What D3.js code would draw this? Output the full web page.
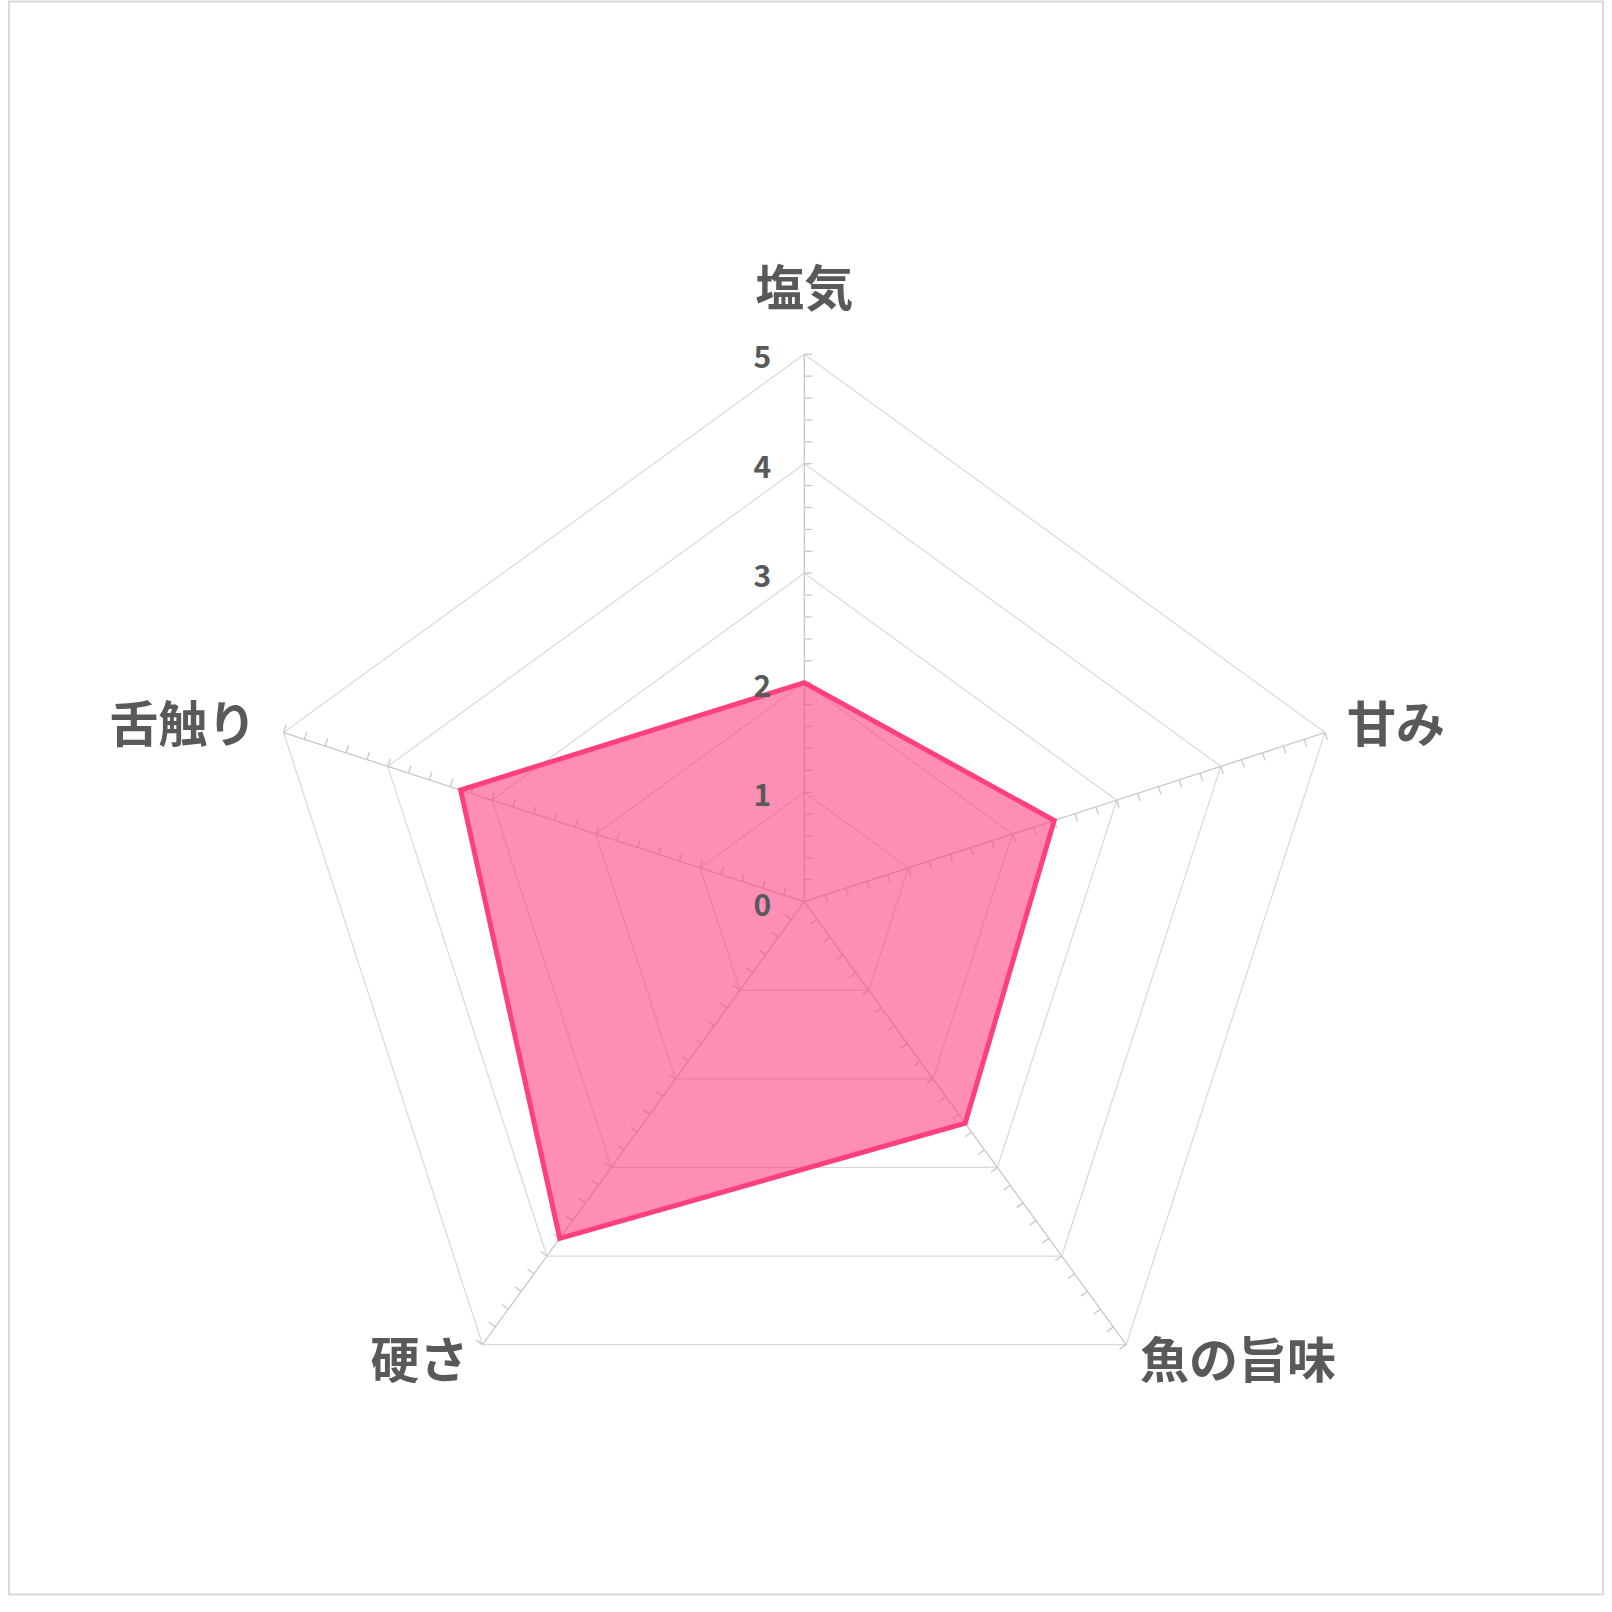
<!DOCTYPE html>
<html>
<head>
<meta charset="utf-8">
<script src="https://cdn.jsdelivr.net/npm/d3@7"></script>
<style>
  html, body { margin: 0; padding: 0; background: #fff; }
  svg { display: block; }
</style>
</head>
<body>
<div id="chart"></div>
<script>
// data
const categories = ["塩気", "甘み", "魚の旨味", "硬さ", "舌触り"]
const values = [2, 2.4, 2.5, 3.8, 3.3]
const tickValues = [0, 1, 2, 3, 4, 5]

const width = 1612
const height = 1612
const cx = 804.3
const cy = 901.7
const R = 547.5

const svg = d3.select("#chart")
  .append("svg")
  .attr("width", width)
  .attr("height", height)

// frame
svg.append("rect")
  .attr("x", 9).attr("y", 1.5)
  .attr("width", 1594).attr("height", 1593)
  .attr("fill", "#fff")
  .attr("stroke", "#d9d9d9")
  .attr("stroke-width", 2)

const r = d3.scaleLinear().domain([0, 5]).range([0, R])
const angle = d3.scaleLinear().domain([0, categories.length]).range([0, 2 * Math.PI])

const g = svg.append("g").attr("transform", `translate(${cx},${cy})`)

// grid polygons
const gridLine = d3.lineRadial()
  .angle((d, i) => angle(i))
  .radius(d => r(d))
  .curve(d3.curveLinearClosed)

g.selectAll(".grid")
  .data(tickValues.slice(1))
  .enter().append("path")
  .attr("class", "grid")
  .attr("d", v => gridLine(categories.map(() => v)))
  .attr("fill", "none")
  .attr("stroke", "#d9d9d9")
  .attr("stroke-width", 1.2)

// axes + minor ticks (every 0.2, on the clockwise side)
const minor = d3.range(1, 26).map(i => i * 0.2)
categories.forEach((c, i) => {
  const a = angle(i)
  const dx = Math.sin(a), dy = -Math.cos(a)
  const px = -dy, py = dx
  const ax = g.append("g")
  ax.append("line")
    .attr("x1", 0).attr("y1", 0)
    .attr("x2", dx * r(5)).attr("y2", dy * r(5))
    .attr("stroke", "#c8c8c8")
    .attr("stroke-width", 1.3)
  ax.selectAll("line.tick")
    .data(minor)
    .enter().append("line")
    .attr("class", "tick")
    .attr("x1", v => dx * r(v)).attr("y1", v => dy * r(v))
    .attr("x2", v => dx * r(v) + px * 8).attr("y2", v => dy * r(v) + py * 8)
    .attr("stroke", "#c8c8c8")
    .attr("stroke-width", 1.3)
})

// data area
const area = d3.lineRadial()
  .angle((d, i) => angle(i))
  .radius(d => r(d))
  .curve(d3.curveLinearClosed)

g.append("path")
  .datum(values)
  .attr("d", area)
  .attr("fill", "#ff3d7f")
  .attr("fill-opacity", 0.58)
  .attr("stroke", "#ff4080")
  .attr("stroke-width", 5)
  .attr("stroke-linejoin", "miter")

// tick labels on the first axis
g.selectAll(".tickLabel")
  .data(tickValues)
  .enter().append("text")
  .attr("class", "tickLabel")
  .attr("x", -33)
  .attr("y", v => -r(v) + 1)
  .attr("text-anchor", "end")
  .attr("dominant-baseline", "central")
  .attr("font-family", "'Noto Sans CJK JP', 'Noto Sans', sans-serif")
  .attr("font-weight", "bold")
  .attr("font-size", 30)
  .attr("fill", "#595959")
  .text(d => d)

// category labels
g.selectAll(".catLabel")
  .data(categories)
  .enter().append("text")
  .attr("class", "catLabel")
  .each(function (d, i) {
    const a = angle(i)
    const s = Math.sin(a), co = -Math.cos(a)
    let x = s * R, y = co * R, anchor = "middle"
    if (Math.abs(s) < 0.01) {
      y -= 70
    } else {
      anchor = s > 0 ? "start" : "end"
      x += s > 0 ? (co < 0 ? 22 : 14) : (co < 0 ? -27 : -14)
      y += co < 0 ? -12 : 12
    }
    d3.select(this)
      .attr("x", x).attr("y", y)
      .attr("text-anchor", anchor)
  })
  .attr("dominant-baseline", "central")
  .attr("font-family", "'Noto Sans CJK JP', sans-serif")
  .attr("font-weight", "bold")
  .attr("font-size", 49)
  .attr("fill", "#595959")
  .text(d => d)
</script>
</body>
</html>
